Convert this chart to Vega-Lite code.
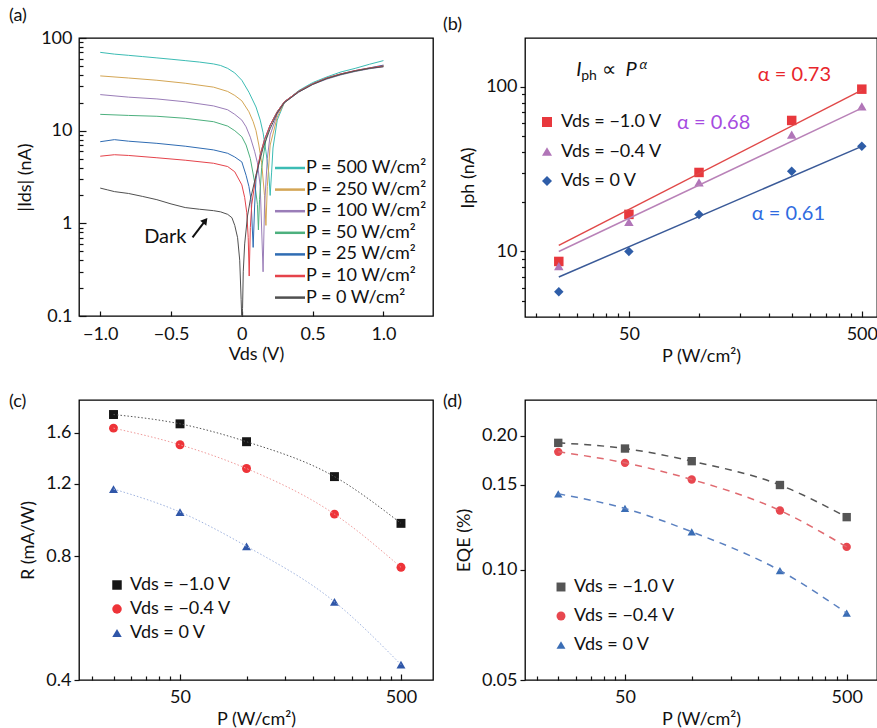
{
  "$schema": "https://vega.github.io/schema/vega-lite/v6.json",
  "padding": {"left": 8, "top": 6, "right": 0, "bottom": 0},
  "columns": 2,
  "spacing": {"row": 83, "column": 92},
  "bounds": "flush",
  "resolve": {"scale": {"color": "independent", "shape": "independent", "stroke": "independent"}, "legend": {"color": "independent", "shape": "independent", "stroke": "independent"}},
  "config": {
    "font": "Lato",
    "view": {"stroke": "#000", "strokeWidth": 1.3},
    "axis": {"domain": false, "grid": false, "labelFont": "Lato", "labelFontSize": 18, "labelColor": "#111", "titleFont": "Lato", "titleFontSize": 18, "titleFontWeight": "normal", "titleColor": "#111", "tickColor": "#111", "tickWidth": 1.2, "labelFlush": false, "labelOverlap": false},
    "legend": {"labelFont": "Lato", "labelColor": "#111"},
    "title": {"font": "Lato", "fontSize": 18, "fontWeight": "normal", "anchor": "start", "frame": "group", "color": "#111"}
  },
  "datasets": {
    "iv": [
      {"P":500,"V":-1.0,"I":70},{"P":500,"V":-0.9,"I":67},{"P":500,"V":-0.8,"I":65},{"P":500,"V":-0.7,"I":63},{"P":500,"V":-0.6,"I":61},{"P":500,"V":-0.5,"I":59},{"P":500,"V":-0.4,"I":57},{"P":500,"V":-0.3,"I":55},{"P":500,"V":-0.2,"I":52.5},{"P":500,"V":-0.15,"I":50.5},{"P":500,"V":-0.1,"I":47},{"P":500,"V":-0.05,"I":42},{"P":500,"V":0,"I":35},{"P":500,"V":0.05,"I":26},{"P":500,"V":0.1,"I":18},{"P":500,"V":0.13,"I":13},{"P":500,"V":0.15,"I":9.5},{"P":500,"V":0.17,"I":6},{"P":500,"V":0.19,"I":3.5},{"P":500,"V":0.2,"I":2.0},{"P":500,"V":0.21,"I":3.5},{"P":500,"V":0.22,"I":6.5},{"P":500,"V":0.25,"I":13},{"P":500,"V":0.3,"I":20},{"P":500,"V":0.4,"I":27},{"P":500,"V":0.5,"I":33},{"P":500,"V":0.6,"I":38},{"P":500,"V":0.7,"I":43},{"P":500,"V":0.8,"I":47},{"P":500,"V":0.9,"I":52},{"P":500,"V":1.0,"I":57},
      {"P":250,"V":-1.0,"I":39},{"P":250,"V":-0.8,"I":37},{"P":250,"V":-0.6,"I":35},{"P":250,"V":-0.4,"I":32.5},{"P":250,"V":-0.2,"I":29.5},{"P":250,"V":-0.1,"I":26.5},{"P":250,"V":-0.05,"I":24},{"P":250,"V":0,"I":21},{"P":250,"V":0.05,"I":16},{"P":250,"V":0.08,"I":12.5},{"P":250,"V":0.1,"I":10},{"P":250,"V":0.12,"I":7},{"P":250,"V":0.14,"I":4.5},{"P":250,"V":0.16,"I":2},{"P":250,"V":0.17,"I":0.95},{"P":250,"V":0.18,"I":2.5},{"P":250,"V":0.2,"I":7},{"P":250,"V":0.25,"I":14},{"P":250,"V":0.3,"I":20},{"P":250,"V":0.4,"I":26.5},{"P":250,"V":0.5,"I":32},{"P":250,"V":0.6,"I":37},{"P":250,"V":0.7,"I":41},{"P":250,"V":0.8,"I":44},{"P":250,"V":0.9,"I":47},{"P":250,"V":1.0,"I":50},
      {"P":100,"V":-1.0,"I":24.5},{"P":100,"V":-0.8,"I":23},{"P":100,"V":-0.6,"I":22},{"P":100,"V":-0.4,"I":20.5},{"P":100,"V":-0.2,"I":18.5},{"P":100,"V":-0.1,"I":16.8},{"P":100,"V":-0.05,"I":15},{"P":100,"V":0,"I":13},{"P":100,"V":0.03,"I":11},{"P":100,"V":0.06,"I":8.5},{"P":100,"V":0.09,"I":6},{"P":100,"V":0.11,"I":4.5},{"P":100,"V":0.13,"I":2.5},{"P":100,"V":0.15,"I":0.3},{"P":100,"V":0.16,"I":1.5},{"P":100,"V":0.18,"I":5},{"P":100,"V":0.2,"I":9},{"P":100,"V":0.25,"I":15},{"P":100,"V":0.3,"I":20},{"P":100,"V":0.4,"I":26},{"P":100,"V":0.5,"I":31.5},{"P":100,"V":0.6,"I":36},{"P":100,"V":0.7,"I":40},{"P":100,"V":0.8,"I":43.5},{"P":100,"V":0.9,"I":46.5},{"P":100,"V":1.0,"I":49},
      {"P":50,"V":-1.0,"I":15},{"P":50,"V":-0.8,"I":14.6},{"P":50,"V":-0.6,"I":14.3},{"P":50,"V":-0.4,"I":13.6},{"P":50,"V":-0.2,"I":12.5},{"P":50,"V":-0.1,"I":11.2},{"P":50,"V":-0.05,"I":10},{"P":50,"V":0,"I":8.6},{"P":50,"V":0.03,"I":7},{"P":50,"V":0.06,"I":5},{"P":50,"V":0.09,"I":2.8},{"P":50,"V":0.11,"I":1.6},{"P":50,"V":0.117,"I":0.85},{"P":50,"V":0.125,"I":1.8},{"P":50,"V":0.14,"I":4},{"P":50,"V":0.17,"I":8},{"P":50,"V":0.2,"I":11.5},{"P":50,"V":0.25,"I":16},{"P":50,"V":0.3,"I":20.5},{"P":50,"V":0.4,"I":26.5},{"P":50,"V":0.5,"I":32},{"P":50,"V":0.6,"I":36.5},{"P":50,"V":0.7,"I":40.5},{"P":50,"V":0.8,"I":44},{"P":50,"V":0.9,"I":47},{"P":50,"V":1.0,"I":50},
      {"P":25,"V":-1.0,"I":7.6},{"P":25,"V":-0.9,"I":8.0},{"P":25,"V":-0.8,"I":7.7},{"P":25,"V":-0.6,"I":7.3},{"P":25,"V":-0.4,"I":6.8},{"P":25,"V":-0.2,"I":6.2},{"P":25,"V":-0.1,"I":5.7},{"P":25,"V":-0.05,"I":5.2},{"P":25,"V":0,"I":4.6},{"P":25,"V":0.03,"I":3.3},{"P":25,"V":0.05,"I":2.5},{"P":25,"V":0.065,"I":1.8},{"P":25,"V":0.08,"I":0.55},{"P":25,"V":0.09,"I":1.5},{"P":25,"V":0.1,"I":3},{"P":25,"V":0.13,"I":5.5},{"P":25,"V":0.16,"I":8},{"P":25,"V":0.2,"I":11.5},{"P":25,"V":0.25,"I":16},{"P":25,"V":0.3,"I":20.5},{"P":25,"V":0.4,"I":26.5},{"P":25,"V":0.5,"I":32},{"P":25,"V":0.6,"I":37},{"P":25,"V":0.7,"I":41},{"P":25,"V":0.8,"I":44.5},{"P":25,"V":0.9,"I":47.5},{"P":25,"V":1.0,"I":51},
      {"P":10,"V":-1.0,"I":5.3},{"P":10,"V":-0.9,"I":5.5},{"P":10,"V":-0.8,"I":5.4},{"P":10,"V":-0.6,"I":5.1},{"P":10,"V":-0.4,"I":4.8},{"P":10,"V":-0.2,"I":4.45},{"P":10,"V":-0.1,"I":4.1},{"P":10,"V":-0.05,"I":3.6},{"P":10,"V":0,"I":2.6},{"P":10,"V":0.02,"I":1.9},{"P":10,"V":0.035,"I":1.3},{"P":10,"V":0.045,"I":0.7},{"P":10,"V":0.052,"I":0.27},{"P":10,"V":0.06,"I":0.9},{"P":10,"V":0.07,"I":1.6},{"P":10,"V":0.1,"I":3.3},{"P":10,"V":0.13,"I":5.5},{"P":10,"V":0.16,"I":8},{"P":10,"V":0.2,"I":11.5},{"P":10,"V":0.25,"I":16},{"P":10,"V":0.3,"I":20.5},{"P":10,"V":0.4,"I":26.5},{"P":10,"V":0.5,"I":32},{"P":10,"V":0.6,"I":37},{"P":10,"V":0.7,"I":41},{"P":10,"V":0.8,"I":44.5},{"P":10,"V":0.9,"I":47.5},{"P":10,"V":1.0,"I":50},
      {"P":0,"V":-1.0,"I":2.4},{"P":0,"V":-0.95,"I":2.3},{"P":0,"V":-0.9,"I":2.2},{"P":0,"V":-0.8,"I":2.1},{"P":0,"V":-0.7,"I":1.95},{"P":0,"V":-0.6,"I":1.8},{"P":0,"V":-0.5,"I":1.62},{"P":0,"V":-0.4,"I":1.48},{"P":0,"V":-0.3,"I":1.42},{"P":0,"V":-0.2,"I":1.37},{"P":0,"V":-0.15,"I":1.33},{"P":0,"V":-0.1,"I":1.25},{"P":0,"V":-0.07,"I":1.15},{"P":0,"V":-0.05,"I":0.95},{"P":0,"V":-0.03,"I":0.7},{"P":0,"V":-0.015,"I":0.4},{"P":0,"V":-0.005,"I":0.15},{"P":0,"V":0,"I":0.09},{"P":0,"V":0.005,"I":0.12},{"P":0,"V":0.01,"I":0.3},{"P":0,"V":0.02,"I":0.6},{"P":0,"V":0.04,"I":1.2},{"P":0,"V":0.06,"I":1.8},{"P":0,"V":0.1,"I":3.3},{"P":0,"V":0.15,"I":6.5},{"P":0,"V":0.2,"I":10.5},{"P":0,"V":0.25,"I":15.5},{"P":0,"V":0.3,"I":20},{"P":0,"V":0.4,"I":26},{"P":0,"V":0.5,"I":31.5},{"P":0,"V":0.6,"I":36.5},{"P":0,"V":0.7,"I":40.5},{"P":0,"V":0.8,"I":44},{"P":0,"V":0.9,"I":47},{"P":0,"V":1.0,"I":49}
    ],
    "ph": [
      {"V":"−1.0 V","P":25,"I":8.7},{"V":"−1.0 V","P":50,"I":16.8},{"V":"−1.0 V","P":100,"I":30.2},{"V":"−1.0 V","P":250,"I":62.5},{"V":"−1.0 V","P":500,"I":96.8},
      {"V":"−0.4 V","P":25,"I":8.15},{"V":"−0.4 V","P":50,"I":15.1},{"V":"−0.4 V","P":100,"I":26.3},{"V":"−0.4 V","P":250,"I":51.2},{"V":"−0.4 V","P":500,"I":76},
      {"V":"0 V","P":25,"I":5.7},{"V":"0 V","P":50,"I":10},{"V":"0 V","P":100,"I":16.8},{"V":"0 V","P":250,"I":30.7},{"V":"0 V","P":500,"I":43.5}
    ],
    "fit": [
      {"V":"−1.0 V","P":25,"I":10.9},{"V":"−1.0 V","P":500,"I":95.5},
      {"V":"−0.4 V","P":25,"I":10.0},{"V":"−0.4 V","P":500,"I":74.3},
      {"V":"0 V","P":25,"I":7.0},{"V":"0 V","P":500,"I":43.5}
    ],
    "resp": [
      {"V":"−1.0 V","P":25,"R":1.77},{"V":"−1.0 V","P":50,"R":1.68},{"V":"−1.0 V","P":100,"R":1.52},{"V":"−1.0 V","P":250,"R":1.25},{"V":"−1.0 V","P":500,"R":0.962},
      {"V":"−0.4 V","P":25,"R":1.64},{"V":"−0.4 V","P":50,"R":1.494},{"V":"−0.4 V","P":100,"R":1.308},{"V":"−0.4 V","P":250,"R":1.013},{"V":"−0.4 V","P":500,"R":0.752},
      {"V":"0 V","P":25,"R":1.166},{"V":"0 V","P":50,"R":1.025},{"V":"0 V","P":100,"R":0.846},{"V":"0 V","P":250,"R":0.62},{"V":"0 V","P":500,"R":0.436}
    ],
    "eqe": [
      {"V":"−1.0 V","P":25,"E":0.1925},{"V":"−1.0 V","P":50,"E":0.1867},{"V":"−1.0 V","P":100,"E":0.1738},{"V":"−1.0 V","P":250,"E":0.1497},{"V":"−1.0 V","P":500,"E":0.1308},
      {"V":"−0.4 V","P":25,"E":0.1833},{"V":"−0.4 V","P":50,"E":0.1721},{"V":"−0.4 V","P":100,"E":0.1551},{"V":"−0.4 V","P":250,"E":0.1347},{"V":"−0.4 V","P":500,"E":0.1133},
      {"V":"0 V","P":25,"E":0.1445},{"V":"0 V","P":50,"E":0.1359},{"V":"0 V","P":100,"E":0.1222},{"V":"0 V","P":250,"E":0.0995},{"V":"0 V","P":500,"E":0.0803}
    ]
  },
  "concat": [
    {
      "width": 354, "height": 278,
      "title": {"text": "(a)", "dx": -70, "offset": 4},
      "layer": [
        {
          "data": {"name": "iv"},
          "mark": {"type": "line", "strokeWidth": 1, "clip": true},
          "encoding": {
            "x": {"field": "V", "type": "quantitative", "scale": {"domain": [-1.15, 1.35], "nice": false, "zero": false},
                  "axis": {"values": [-1, -0.5, 0, 0.5, 1], "labelExpr": "datum.value === 0 ? '0' : format(datum.value, '.1f')", "tickSize": -5, "labelPadding": 14, "title": "Vds (V)", "titlePadding": 2}},
            "y": {"field": "I", "type": "quantitative", "scale": {"type": "log", "domain": [0.1, 100], "nice": false},
                  "axis": {"values": [0.1,0.2,0.3,0.4,0.5,0.6,0.7,0.8,0.9,1,2,3,4,5,6,7,8,9,10,20,30,40,50,60,70,80,90,100],
                           "labelExpr": "indexof([0.1,1,10,100], datum.value) >= 0 ? (datum.value < 1 ? '0.1' : format(datum.value, 'd')) : ''",
                           "tickSize": {"condition": {"test": "indexof([0.1,1,10,100], datum.value) >= 0", "value": -7}, "value": -4},
                           "labelPadding": 14, "title": "|Ids| (nA)", "titlePadding": 6}},
            "color": {"field": "P", "type": "ordinal",
                      "scale": {"domain": [500, 250, 100, 50, 25, 10, 0], "range": ["#3CBCB4", "#D4A655", "#9A7DB8", "#4DB07E", "#2F6CB3", "#E5434B", "#505050"]},
                      "legend": {"title": null, "orient": "none", "legendX": 202, "legendY": 121, "symbolType": "M-2,0H2", "symbolSize": 225, "symbolStrokeWidth": 2.5, "labelFontSize": 18, "labelOffset": 7, "rowPadding": 3.6, "labelExpr": "'P = ' + datum.label + ' W/cm²'"}}
          }
        },
        {
          "data": {"values": [{}]},
          "mark": {"type": "text", "align": "left", "baseline": "middle", "fontSize": 20, "color": "#111"},
          "encoding": {"x": {"datum": -0.69, "type": "quantitative"}, "y": {"datum": 0.718, "type": "quantitative"}, "text": {"value": "Dark"}}
        },
        {
          "data": {"values": [{}]},
          "mark": {"type": "rule", "strokeWidth": 2, "color": "#111"},
          "encoding": {"x": {"datum": -0.348, "type": "quantitative"}, "y": {"datum": 0.707, "type": "quantitative"}, "x2": {"datum": -0.262}, "y2": {"datum": 1.05}}
        },
        {
          "data": {"values": [{}]},
          "mark": {"type": "point", "shape": "triangle-up", "filled": true, "size": 60, "angle": 38, "color": "#111", "opacity": 1},
          "encoding": {"x": {"datum": -0.258, "type": "quantitative"}, "y": {"datum": 1.07, "type": "quantitative"}}
        }
      ]
    },
    {
      "width": 352, "height": 279,
      "title": {"text": "(b)", "dx": -82, "offset": 4},
      "layer": [
        {
          "data": {"name": "ph"},
          "mark": {"type": "point", "filled": true, "size": 90, "opacity": 1},
          "encoding": {
            "x": {"field": "P", "type": "quantitative", "scale": {"type": "log", "domain": [17.9, 581], "nice": false},
                  "axis": {"values": [20,25,30,35,40,45,50,100,150,200,250,300,350,400,450,500],
                           "labelExpr": "datum.value === 50 || datum.value === 500 ? format(datum.value, 'd') : ''",
                           "tickSize": {"condition": {"test": "datum.value === 50 || datum.value === 500", "value": -6}, "value": -4},
                           "labelPadding": 14, "title": "P (W/cm²)", "titlePadding": 2}},
            "y": {"field": "I", "type": "quantitative", "scale": {"type": "log", "domain": [4, 198], "nice": false},
                  "axis": {"values": [5,6,7,8,9,10,20,30,40,50,60,70,80,90,100],
                           "labelExpr": "datum.value === 10 || datum.value === 100 ? format(datum.value, 'd') : ''",
                           "tickSize": {"condition": {"test": "datum.value === 10 || datum.value === 100", "value": 5}, "value": 3.5},
                           "labelPadding": 3, "title": "Iph (nA)", "titlePadding": 8}},
            "color": {"field": "V", "type": "nominal", "scale": {"domain": ["−1.0 V", "−0.4 V", "0 V"], "range": ["#E8383D", "#B175B8", "#2E5DA8"]},
                      "legend": {"title": null, "orient": "none", "legendX": 13, "legendY": 75, "labelFontSize": 18, "rowPadding": 11.5, "labelOffset": 5, "symbolStrokeWidth": 0, "symbolSize": 100, "labelExpr": "'Vds = ' + datum.label"}},
            "shape": {"field": "V", "type": "nominal", "scale": {"domain": ["−1.0 V", "−0.4 V", "0 V"], "range": ["square", "triangle-up", "diamond"]}}
          }
        },
        {
          "data": {"name": "fit"},
          "mark": {"type": "line", "strokeWidth": 1.5},
          "encoding": {
            "x": {"field": "P", "type": "quantitative"},
            "y": {"field": "I", "type": "quantitative"},
            "stroke": {"field": "V", "type": "nominal", "scale": {"domain": ["−1.0 V", "−0.4 V", "0 V"], "range": ["#E04848", "#B982B8", "#3A5A98"]}, "legend": null}
          }
        },
        {
          "data": {"values": [{}]},
          "mark": {"type": "text", "align": "left", "baseline": "alphabetic", "fontSize": 20, "fontStyle": "italic", "color": "#111"},
          "encoding": {"x": {"datum": 29.7, "type": "quantitative"}, "y": {"datum": 116.6, "type": "quantitative"}, "text": {"value": "I"}}
        },
        {
          "data": {"values": [{}]},
          "mark": {"type": "text", "align": "left", "baseline": "alphabetic", "fontSize": 14, "color": "#111"},
          "encoding": {"x": {"datum": 31.2, "type": "quantitative"}, "y": {"datum": 110.3, "type": "quantitative"}, "text": {"value": "ph"}}
        },
        {
          "data": {"values": [{}]},
          "mark": {"type": "text", "align": "center", "baseline": "middle", "fontSize": 20, "color": "#111"},
          "encoding": {"x": {"datum": 41.1, "type": "quantitative"}, "y": {"datum": 126, "type": "quantitative"}, "text": {"value": "∝"}}
        },
        {
          "data": {"values": [{}]},
          "mark": {"type": "text", "align": "left", "baseline": "alphabetic", "fontSize": 20, "fontStyle": "italic", "color": "#111"},
          "encoding": {"x": {"datum": 48.3, "type": "quantitative"}, "y": {"datum": 116.6, "type": "quantitative"}, "text": {"value": "P"}}
        },
        {
          "data": {"values": [{}]},
          "mark": {"type": "text", "align": "left", "baseline": "alphabetic", "fontSize": 14, "fontStyle": "italic", "color": "#111"},
          "encoding": {"x": {"datum": 55.5, "type": "quantitative"}, "y": {"datum": 128.5, "type": "quantitative"}, "text": {"value": "α"}}
        },
        {
          "data": {"values": [{}]},
          "mark": {"type": "text", "align": "left", "baseline": "middle", "fontSize": 20, "color": "#E8262C"},
          "encoding": {"x": {"datum": 178.9, "type": "quantitative"}, "y": {"datum": 118.2, "type": "quantitative"}, "text": {"value": "α = 0.73"}}
        },
        {
          "data": {"values": [{}]},
          "mark": {"type": "text", "align": "left", "baseline": "middle", "fontSize": 20, "color": "#A64BE0"},
          "encoding": {"x": {"datum": 80.5, "type": "quantitative"}, "y": {"datum": 60.5, "type": "quantitative"}, "text": {"value": "α = 0.68"}}
        },
        {
          "data": {"values": [{}]},
          "mark": {"type": "text", "align": "left", "baseline": "middle", "fontSize": 20, "color": "#2F6BE0"},
          "encoding": {"x": {"datum": 168.6, "type": "quantitative"}, "y": {"datum": 16.9, "type": "quantitative"}, "text": {"value": "α = 0.61"}}
        }
      ]
    },
    {
      "width": 354, "height": 280,
      "title": {"text": "(c)", "dx": -70, "offset": -11},
      "layer": [
        {
          "data": {"name": "resp"},
          "mark": {"type": "point", "filled": true, "size": 80, "opacity": 1},
          "encoding": {
            "x": {"field": "P", "type": "quantitative", "scale": {"type": "log", "domain": [17.45, 698], "nice": false},
                  "axis": {"values": [20,25,30,35,40,45,50,100,150,200,250,300,350,400,450,500],
                           "labelExpr": "datum.value === 50 || datum.value === 500 ? format(datum.value, 'd') : ''",
                           "tickSize": {"condition": {"test": "datum.value === 50 || datum.value === 500", "value": -6}, "value": -4},
                           "labelPadding": 14, "title": "P (W/cm²)", "titlePadding": 2}},
            "y": {"field": "R", "type": "quantitative", "scale": {"type": "log", "domain": [0.4, 1.92], "nice": false},
                  "axis": {"values": [0.4, 0.8, 1.2, 1.6], "format": ".1f", "tickSize": 5, "labelPadding": 3, "title": "R (mA/W)", "titlePadding": 8}},
            "color": {"field": "V", "type": "nominal", "scale": {"domain": ["−1.0 V", "−0.4 V", "0 V"], "range": ["#161616", "#EE3338", "#2F56A8"]},
                      "legend": {"title": null, "orient": "none", "legendX": 29, "legendY": 176, "labelFontSize": 18, "rowPadding": 6, "labelOffset": 4, "symbolStrokeWidth": 0, "symbolSize": 90, "labelExpr": "'Vds = ' + datum.label"}},
            "shape": {"field": "V", "type": "nominal", "scale": {"domain": ["−1.0 V", "−0.4 V", "0 V"], "range": ["square", "circle", "triangle-up"]}}
          }
        },
        {
          "data": {"name": "resp"},
          "mark": {"type": "line", "strokeWidth": 1, "strokeDash": [1.5, 2], "interpolate": "monotone"},
          "encoding": {
            "x": {"field": "P", "type": "quantitative"},
            "y": {"field": "R", "type": "quantitative"},
            "stroke": {"field": "V", "type": "nominal", "scale": {"domain": ["−1.0 V", "−0.4 V", "0 V"], "range": ["#555555", "#F09A9A", "#9FB3DF"]}, "legend": null}
          }
        }
      ]
    },
    {
      "width": 352, "height": 280,
      "title": {"text": "(d)", "dx": -82, "offset": -11},
      "layer": [
        {
          "data": {"name": "eqe"},
          "mark": {"type": "point", "filled": true, "size": 70, "opacity": 1},
          "encoding": {
            "x": {"field": "P", "type": "quantitative", "scale": {"type": "log", "domain": [17.7, 685], "nice": false},
                  "axis": {"values": [20,25,30,35,40,45,50,100,150,200,250,300,350,400,450,500],
                           "labelExpr": "datum.value === 50 || datum.value === 500 ? format(datum.value, 'd') : ''",
                           "tickSize": {"condition": {"test": "datum.value === 50 || datum.value === 500", "value": -6}, "value": -4},
                           "labelPadding": 14, "title": "P (W/cm²)", "titlePadding": 2}},
            "y": {"field": "E", "type": "quantitative", "scale": {"type": "linear", "domain": [0.05, 0.10, 0.15, 0.20, 0.236], "range": [280, 169.5, 84.5, 35.5, 0], "nice": false, "zero": false},
                  "axis": {"values": [0.05, 0.1, 0.15, 0.2], "format": ".2f", "tickSize": 5, "labelPadding": 3, "title": "EQE (%)", "titlePadding": 8}},
            "color": {"field": "V", "type": "nominal", "scale": {"domain": ["−1.0 V", "−0.4 V", "0 V"], "range": ["#555555", "#E8474F", "#3A6DB5"]},
                      "legend": {"title": null, "orient": "none", "legendX": 27, "legendY": 178, "labelFontSize": 18, "rowPadding": 11, "labelOffset": 4, "symbolStrokeWidth": 0, "symbolSize": 80, "labelExpr": "'Vds = ' + datum.label"}},
            "shape": {"field": "V", "type": "nominal", "scale": {"domain": ["−1.0 V", "−0.4 V", "0 V"], "range": ["square", "circle", "triangle-up"]}}
          }
        },
        {
          "data": {"name": "eqe"},
          "mark": {"type": "line", "strokeWidth": 1.5, "strokeDash": [7, 6], "interpolate": "monotone"},
          "encoding": {
            "x": {"field": "P", "type": "quantitative"},
            "y": {"field": "E", "type": "quantitative"},
            "stroke": {"field": "V", "type": "nominal", "scale": {"domain": ["−1.0 V", "−0.4 V", "0 V"], "range": ["#555555", "#E06A70", "#5A80C0"]}, "legend": null}
          }
        }
      ]
    }
  ]
}
